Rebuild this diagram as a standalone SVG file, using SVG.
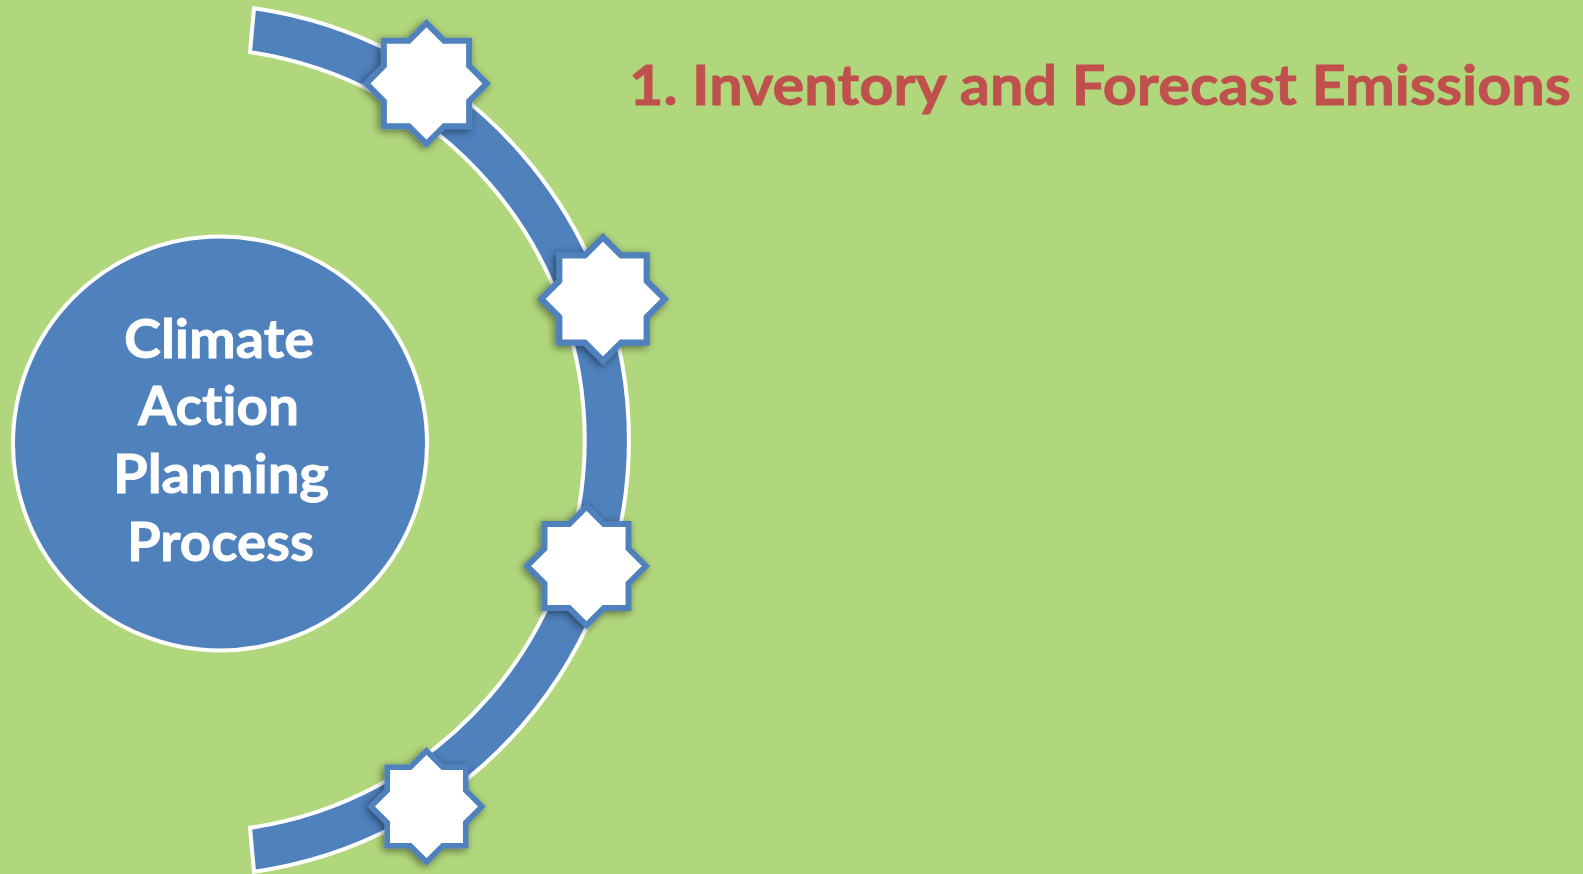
<svg xmlns="http://www.w3.org/2000/svg" xmlns:xlink="http://www.w3.org/1999/xlink" width="1583" height="874" viewBox="0 0 1583 874">
  <style>
    .band { fill: #4F81BD; stroke: #FFFFFF; stroke-width: 4; stroke-linejoin: miter; }
    .star { fill: #FFFFFF; stroke: #4F81BD; stroke-width: 6; stroke-linejoin: miter; stroke-miterlimit: 10; }
    .hub { fill: #4F81BD; stroke: #FFFFFF; stroke-width: 4; }
    .hubtext { font-family: Lato, "Open Sans", "Liberation Sans", sans-serif; font-weight: 700; font-size: 53px; fill: #FFFFFF; stroke: #FFFFFF; stroke-width: 0.8; font-variant-ligatures: none; }
    .title { font-family: Lato, "Open Sans", "Liberation Sans", sans-serif; font-weight: 700; font-size: 56px; fill: #C0504D; stroke: #C0504D; stroke-width: 0.8; font-variant-ligatures: none; }
  </style>
  <defs>
    <filter id="shadow" x="-30%" y="-30%" width="160%" height="160%">
      <feDropShadow dx="-2" dy="2" stdDeviation="4" flood-color="#000000" flood-opacity="0.5"/>
    </filter>
    <polygon id="star8" points="0,-60 17.57,-42.43 42.43,-42.43 42.43,-17.57 60,0 42.43,17.57 42.43,42.43 17.57,42.43 0,60 -17.57,42.43 -42.43,42.43 -42.43,17.57 -60,0 -42.43,-17.57 -42.43,-42.43 -17.57,-42.43"/>
  </defs>

  <rect x="0" y="0" width="1583" height="874" fill="#B1D77C"/>

  <g id="connectors">
    <path id="arc" class="band" d="M 254 8.3 A 436 436 0 0 1 254 871.7 L 250 827.8 A 392 392 0 0 0 250 52.2 Z"/>
  </g>

  <g id="node-center">
    <circle class="hub" cx="220" cy="443.5" r="207"/>
    <text class="hubtext" x="124" y="358" textLength="190" lengthAdjust="spacingAndGlyphs">Climate</text>
    <text class="hubtext" x="138" y="425" textLength="161" lengthAdjust="spacingAndGlyphs">Action</text>
    <text class="hubtext" x="113" y="493" textLength="216" lengthAdjust="spacingAndGlyphs">Planning</text>
    <text class="hubtext" x="127" y="561" textLength="187" lengthAdjust="spacingAndGlyphs">Process</text>
  </g>

  <g id="star-1" filter="url(#shadow)">
    <use xlink:href="#star8" class="star" transform="translate(426.5 83.5) scale(1.005)"/>
  </g>
  <g id="star-2" filter="url(#shadow)">
    <use xlink:href="#star8" class="star" transform="translate(603 299) scale(1.03)"/>
  </g>
  <g id="star-3" filter="url(#shadow)">
    <use xlink:href="#star8" class="star" transform="translate(586.5 566) scale(0.99)"/>
  </g>
  <g id="star-4" filter="url(#shadow)">
    <use xlink:href="#star8" class="star" transform="translate(426.5 806.5) scale(0.925)"/>
  </g>

  <g id="title">
    <text class="title" x="629" y="105" textLength="942" lengthAdjust="spacingAndGlyphs">1. Inventory and Forecast Emissions</text>
  </g>
</svg>
